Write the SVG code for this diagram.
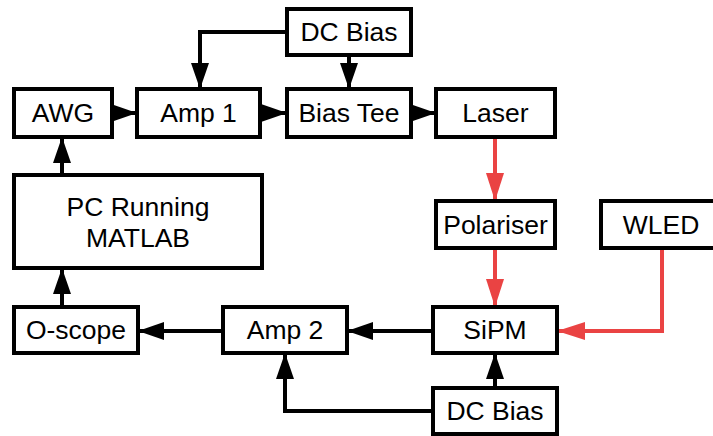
<svg xmlns="http://www.w3.org/2000/svg" width="713" height="436" viewBox="0 0 713 436">
<defs>
<style>
.box{fill:#fff;stroke:#000;stroke-width:4}
.lbl{font-family:"Liberation Sans",Arial,sans-serif;font-size:26.5px;fill:#000;text-anchor:middle}
.k{fill:none;stroke:#000;stroke-width:4;marker-end:url(#ak)}
.r{fill:none;stroke:#EA4343;stroke-width:4;marker-end:url(#ar)}
</style>
<marker id="ak" markerUnits="userSpaceOnUse" markerWidth="26" markerHeight="18" viewBox="0 0 26 18" refX="26" refY="9" orient="auto"><path d="M0,0 L26,9 L0,18 z" fill="#000"/></marker>
<marker id="ar" markerUnits="userSpaceOnUse" markerWidth="28" markerHeight="18" viewBox="0 0 28 18" refX="28" refY="9" orient="auto"><path d="M0,0 L28,9 L0,18 z" fill="#EA4343"/></marker>
</defs>
<rect width="713" height="436" fill="#fff"/>
<g id="connectors">
<path class="k" d="M287,32 H200 V89"/>
<path class="k" d="M349,55 V89"/>
<path class="k" d="M112,113 H137"/>
<path class="k" d="M260,113 H287"/>
<path class="k" d="M411,113 H436"/>
<path class="r" d="M495,137 V201"/>
<path class="r" d="M495,248 V307"/>
<path class="r" d="M662,248 V331 H557"/>
<path class="k" d="M433,331 H347"/>
<path class="k" d="M223,331 H138"/>
<path class="k" d="M62,307 V268"/>
<path class="k" d="M62,175 V137"/>
<path class="k" d="M495,388 V353"/>
<path class="k" d="M433,411 H285 V353"/>
</g>
<g id="dcbias1"><rect class="box" x="287" y="9" width="124" height="46"/><text class="lbl" x="349" y="41">DC Bias</text></g>
<g id="awg"><rect class="box" x="14" y="89" width="98" height="48"/><text class="lbl" x="63" y="122">AWG</text></g>
<g id="amp1"><rect class="box" x="137" y="89" width="123" height="48"/><text class="lbl" x="198.5" y="122">Amp 1</text></g>
<g id="biastee"><rect class="box" x="287" y="89" width="124" height="48"/><text class="lbl" x="349" y="122">Bias Tee</text></g>
<g id="laser"><rect class="box" x="436" y="89" width="119" height="48"/><text class="lbl" x="495.5" y="122">Laser</text></g>
<g id="pc"><rect class="box" x="14" y="175" width="248" height="93"/><text class="lbl" x="138" y="216">PC Running</text><text class="lbl" x="138" y="247">MATLAB</text></g>
<g id="polariser"><rect class="box" x="436" y="201" width="119" height="47"/><text class="lbl" x="495.5" y="234">Polariser</text></g>
<g id="wled"><rect class="box" x="601" y="201" width="120" height="47"/><text class="lbl" x="661" y="234">WLED</text></g>
<g id="oscope"><rect class="box" x="14" y="307" width="124" height="46"/><text class="lbl" x="76" y="339">O-scope</text></g>
<g id="amp2"><rect class="box" x="223" y="307" width="124" height="46"/><text class="lbl" x="285" y="339">Amp 2</text></g>
<g id="sipm"><rect class="box" x="433" y="307" width="124" height="46"/><text class="lbl" x="495" y="339">SiPM</text></g>
<g id="dcbias2"><rect class="box" x="433" y="388" width="124" height="46"/><text class="lbl" x="495" y="420">DC Bias</text></g>
</svg>
